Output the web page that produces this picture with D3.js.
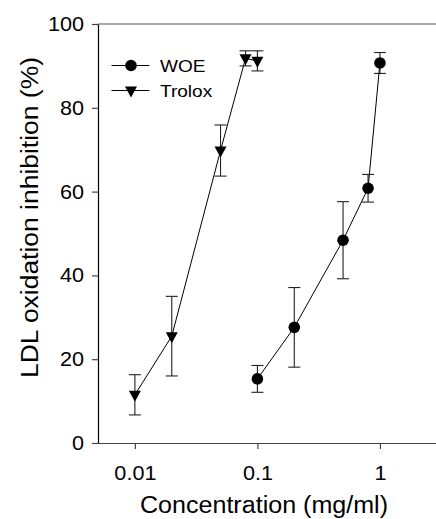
<!DOCTYPE html>
<html>
<head>
<meta charset="utf-8">
<script src="https://cdn.jsdelivr.net/npm/d3@7"></script>
<style>
  body { margin: 0; background: #fff; }
  svg { display: block; font-family: "Liberation Sans", Arial, sans-serif; }
</style>
</head>
<body>
<div id="chart-container"></div>
<script>
// WOE series
var WOE_CONC = [0.1, 0.2, 0.5, 0.8, 1];
var WOE_MEAN = [15.3, 27.6, 48.4, 60.8, 90.7];
var WOE_ERR = [3.2, 9.5, 9.2, 3.3, 2.5];
// Trolox series
var TROLOX_CONC = [0.01, 0.02, 0.05, 0.08, 0.1];
var TROLOX_MEAN = [11.5, 25.5, 69.8, 91.8, 91.2];
var TROLOX_ERR = [4.8, 9.5, 6.1, 1.8, 2.4];
// axis ticks
var X_TICKS = [0.01, 0.1, 1];
var X_TICK_LABELS = ["0.01", "0.1", "1"];
var Y_TICKS = [0, 20, 40, 60, 80, 100];
var Y_TICK_LABELS = ["0", "20", "40", "60", "80", "100"];
var SERIES_NAMES = ["WOE", "Trolox"];

function toPoints(conc, mean, err) {
    return conc.map(function (c, i) { return { x: c, y: mean[i], e: err[i] }; });
}

function drawChart() {
    var width = 436, height = 519;
    var svg = d3.select("#chart-container")
        .append("svg")
        .attr("width", width)
        .attr("height", height);

    // scales
    var x = d3.scaleLog().domain([0.005, 3]).range([98, 438.4]);
    var y = d3.scaleLinear().domain([0, 100]).range([443, 24]);

    // top frame line
    svg.append("line")
        .attr("x1", x.range()[0]).attr("x2", width)
        .attr("y1", y(100)).attr("y2", y(100))
        .attr("stroke", "#555").attr("stroke-width", 1.2);

    // bottom axis
    var xAxis = svg.append("g")
        .attr("transform", "translate(0," + y(0) + ")")
        .call(d3.axisBottom(x).tickValues(X_TICKS)
            .tickFormat(function (d, i) { return X_TICK_LABELS[i]; })
            .tickSizeInner(6).tickSizeOuter(0).tickPadding(17));
    xAxis.select(".domain").attr("stroke", "#444").attr("stroke-width", 1.2);
    xAxis.selectAll(".tick line").attr("stroke", "#444").attr("stroke-width", 1.2);

    // left axis
    var yAxis = svg.append("g")
        .attr("transform", "translate(" + x.range()[0] + ",0)")
        .call(d3.axisLeft(y).tickValues(Y_TICKS)
            .tickFormat(function (d, i) { return Y_TICK_LABELS[i]; })
            .tickSizeInner(6).tickSizeOuter(0).tickPadding(8));
    yAxis.select(".domain").attr("stroke", "#000").attr("stroke-width", 1.2);
    yAxis.selectAll(".tick line").attr("stroke", "#444").attr("stroke-width", 1.2);

    svg.selectAll(".tick text")
        .attr("font-size", "20px")
        .attr("fill", "#000")
        .attr("font-family", "'Liberation Sans', Arial, sans-serif")
        .each(function () {
            var w = this.getComputedTextLength();
            d3.select(this).attr("textLength", w * 1.08).attr("lengthAdjust", "spacingAndGlyphs");
        });

    // axis titles
    svg.append("text")
        .attr("x", 264).attr("y", 513)
        .attr("text-anchor", "middle")
        .attr("font-size", "23px")
        .attr("textLength", 248).attr("lengthAdjust", "spacingAndGlyphs")
        .text("Concentration (mg/ml)");
    svg.append("text")
        .attr("transform", "translate(38,217.5) rotate(-90)")
        .attr("text-anchor", "middle")
        .attr("font-size", "23px")
        .attr("textLength", 321).attr("lengthAdjust", "spacingAndGlyphs")
        .text("LDL oxidation inhibition (%)");

    var triangle = "M-6,-4L6,-4L0,7Z";
    var line = d3.line().x(function (d) { return x(d.x); }).y(function (d) { return y(d.y); });

    var series = [
        { name: SERIES_NAMES[0], data: toPoints(WOE_CONC, WOE_MEAN, WOE_ERR), marker: "circle" },
        { name: SERIES_NAMES[1], data: toPoints(TROLOX_CONC, TROLOX_MEAN, TROLOX_ERR), marker: "triangle" }
    ];

    series.forEach(function (s) {
        var g = svg.append("g");
        // error bars
        var eb = g.selectAll(".err").data(s.data).enter().append("g")
            .attr("stroke", "#222").attr("stroke-width", 1.1);
        eb.append("line")
            .attr("x1", function (d) { return x(d.x); }).attr("x2", function (d) { return x(d.x); })
            .attr("y1", function (d) { return y(d.y + d.e); }).attr("y2", function (d) { return y(d.y - d.e); });
        eb.append("line")
            .attr("x1", function (d) { return x(d.x) - 6; }).attr("x2", function (d) { return x(d.x) + 6; })
            .attr("y1", function (d) { return y(d.y + d.e); }).attr("y2", function (d) { return y(d.y + d.e); });
        eb.append("line")
            .attr("x1", function (d) { return x(d.x) - 6; }).attr("x2", function (d) { return x(d.x) + 6; })
            .attr("y1", function (d) { return y(d.y - d.e); }).attr("y2", function (d) { return y(d.y - d.e); });
        // connecting line
        g.append("path")
            .datum(s.data)
            .attr("d", line)
            .attr("fill", "none")
            .attr("stroke", "#000")
            .attr("stroke-width", 1);
        // markers
        if (s.marker === "circle") {
            g.selectAll(".pt").data(s.data).enter().append("circle")
                .attr("cx", function (d) { return x(d.x); })
                .attr("cy", function (d) { return y(d.y); })
                .attr("r", 5.8).attr("fill", "#000");
        } else {
            g.selectAll(".pt").data(s.data).enter().append("path")
                .attr("d", triangle)
                .attr("transform", function (d) { return "translate(" + x(d.x) + "," + y(d.y) + ")"; })
                .attr("fill", "#000");
        }
    });

    // legend
    var legend = svg.append("g");
    series.forEach(function (s, i) {
        var ly = 65.5 + i * 25;
        legend.append("line")
            .attr("x1", 111.5).attr("x2", 149.5)
            .attr("y1", ly).attr("y2", ly)
            .attr("stroke", "#000").attr("stroke-width", 1);
        if (s.marker === "circle") {
            legend.append("circle").attr("cx", 131).attr("cy", ly).attr("r", 5.8).attr("fill", "#000");
        } else {
            legend.append("path").attr("d", triangle)
                .attr("transform", "translate(131," + ly + ")").attr("fill", "#000");
        }
        legend.append("text")
            .attr("x", 160).attr("y", ly + 6.2)
            .attr("font-size", "17px")
            .text(s.name)
            .each(function () {
                var w = this.getComputedTextLength();
                d3.select(this).attr("textLength", w * 1.12).attr("lengthAdjust", "spacingAndGlyphs");
            });
    });
}

window.onload = function () {
    drawChart();
};
</script>
</body>
</html>
